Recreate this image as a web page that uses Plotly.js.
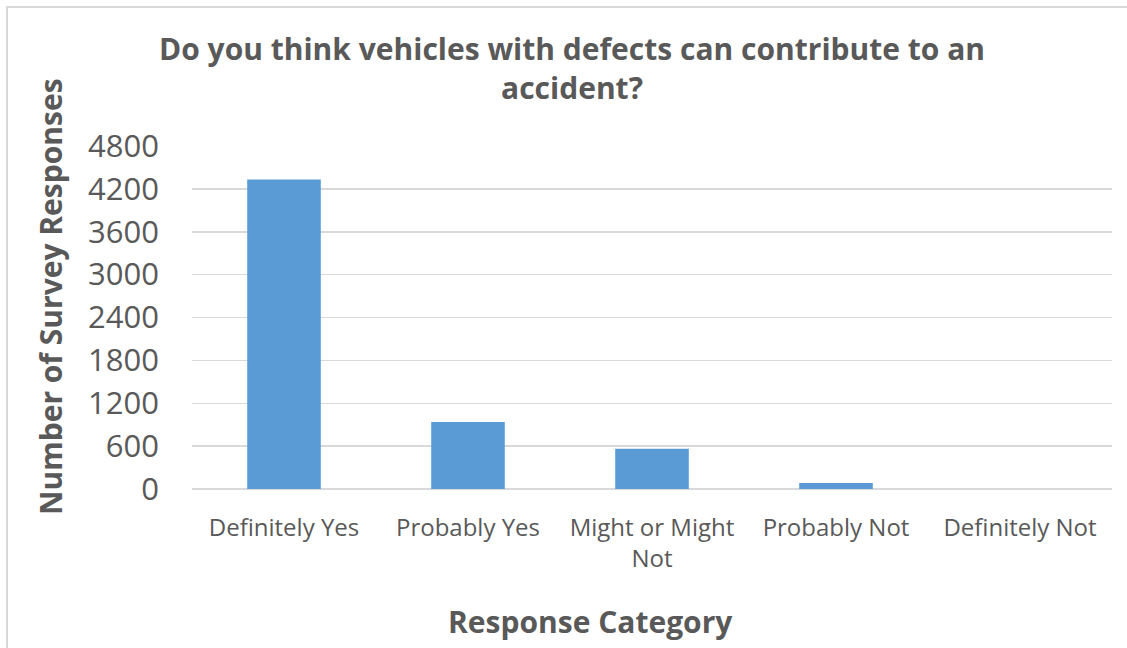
<!DOCTYPE html>
<html><head><meta charset="utf-8">
<script src="https://cdn.plot.ly/plotly-3.0.1.min.js"></script>
<style>
html,body{margin:0;padding:0;overflow:hidden;background:#fff;}
#chart{width:1127px;height:648px;}
#frame{position:absolute;left:6px;top:6px;width:1200px;height:700px;border:2px solid #d9d9d9;pointer-events:none;}
</style></head>
<body>
<div id="chart"></div>
<div id="frame"></div>
<script>
const categories = ["Definitely Yes", "Probably Yes", "Might or Might<br>Not", "Probably Not", "Definitely Not"];
const responses = [4330, 937, 564, 84, 0];
const yTicks = [0, 600, 1200, 1800, 2400, 3000, 3600, 4200, 4800];
const titleText = "<b>Do you think vehicles with defects can contribute to an<br>accident?</b>";
const xTitle = "<b>Response Category</b>";
const yTitle = "<b>Number of Survey Responses</b>";

const font = "Open Sans, Liberation Sans, sans-serif";
const grey = "#595959";

Plotly.newPlot("chart", [{
  type: "bar",
  x: categories,
  y: responses,
  marker: {color: "#5B9BD5"},
  hoverinfo: "x+y"
}], {
  width: 1127, height: 648,
  paper_bgcolor: "rgba(0,0,0,0)", plot_bgcolor: "#fff",
  margin: {l: 192, r: 15, t: 146, b: 159},
  bargap: 0.6,
  showlegend: false,
  xaxis: {
    type: "category",
    tickfont: {family: font, size: 24, color: grey},
    showgrid: false, zeroline: false, showline: false,
    ticks: "", ticklabelstandoff: 22
  },
  yaxis: {
    range: [0, 4800],
    tickvals: yTicks,
    ticktext: yTicks.map(String),
    tickfont: {family: font, size: 31, color: grey},
    showgrid: true, gridcolor: "#d9d9d9", gridwidth: 1.5,
    zeroline: true, zerolinecolor: "#d9d9d9", zerolinewidth: 1.5,
    showline: false, ticks: "", ticklabelstandoff: 32
  },
  annotations: [
    {text: titleText, xref: "paper", yref: "paper", x: 0.413, y: 1.226,
     xanchor: "center", yanchor: "middle", showarrow: false, align: "center",
     font: {family: font, size: 30, color: grey}},
    {text: xTitle, xref: "paper", yref: "paper", x: 0.433, y: -0.385,
     xanchor: "center", yanchor: "middle", showarrow: false,
     font: {family: font, size: 30, color: grey}},
    {text: yTitle, xref: "paper", yref: "paper", x: -0.154, y: 0.561, textangle: -90,
     xanchor: "center", yanchor: "middle", showarrow: false,
     font: {family: font, size: 30, color: grey}}
  ]
}, {displayModeBar: false, staticPlot: true});
</script>
</body></html>
